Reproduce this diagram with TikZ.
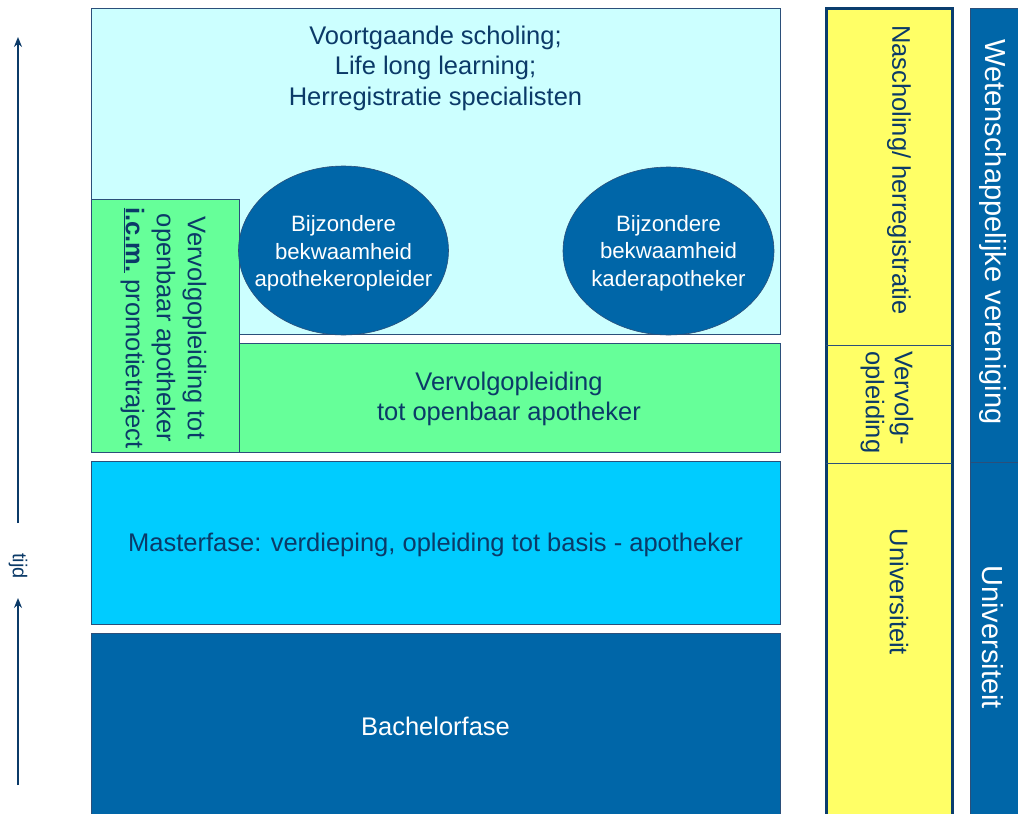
\documentclass[tikz,border=0pt]{standalone}
\usepackage{fontspec}
\setmainfont{Liberation Sans}
\usetikzlibrary{shapes.geometric,arrows.meta}
\definecolor{lcyan}{HTML}{CCFFFF}
\definecolor{lgreen}{HTML}{66FF99}
\definecolor{mcyan}{HTML}{00CCFF}
\definecolor{dblue}{HTML}{0066A8}
\definecolor{yel}{HTML}{FFFF66}
\definecolor{navytext}{HTML}{0B3A68}
\definecolor{bordc}{HTML}{2B4F7A}
\definecolor{thickb}{HTML}{0A3D6E}
\tikzset{
  box/.style={draw=bordc, line width=0.8pt, inner sep=0pt, outer sep=0pt, anchor=north west, align=center, text=navytext},
  bigtxt/.style={font=\fontsize{25.5}{30.5}\selectfont},
  elltxt/.style={font=\fontsize{22.2}{27.5}\selectfont},
  oval/.style={ellipse, draw=bordc, line width=0.6pt, fill=dblue, inner sep=0pt},
  vtxt/.style={rotate=-90, inner sep=0pt, align=center},
  timearrow/.style={draw=navytext, line width=1.4pt, -{Stealth[length=10pt,width=8pt]}}
}
\begin{document}
\begin{tikzpicture}[x=1pt,y=-1pt]
\clip (0,0) rectangle (1018,814);
\fill[white] (0,0) rectangle (1018,814);
% main boxes
\node[box, fill=lcyan, minimum width=689pt, minimum height=326pt] (top) at (91,8) {};
\node[bigtxt, text=navytext, align=center] (toptxt) at (435.5,68) {Voortgaande scholing;\\Life long learning;\\Herregistratie specialisten};
\node[box, fill=lgreen, minimum width=148pt, minimum height=253pt] (vtall) at (91,199) {};
\node[vtxt, text=navytext, font=\fontsize{25.5}{31}\selectfont] (vtalltxt) at (163.5,328) {Vervolgopleiding tot\\openbaar apotheker\\\underline{\textbf{i.c.m.}} promotietraject};
\node[box, fill=lgreen, minimum width=541pt, minimum height=109pt] (vwide) at (239,343) {};
\node[bigtxt, text=navytext, align=center] (vwidetxt) at (509,399) {Vervolgopleiding\\tot openbaar apotheker};
\node[box, fill=mcyan, minimum width=689pt, minimum height=163pt] (master) at (91,461) {};
\node[bigtxt, text=navytext] (mastertxt) at (435.5,545) {Masterfase: verdieping, opleiding tot basis - apotheker};
\node[box, bigtxt, fill=dblue, text=white, minimum width=689pt, minimum height=186pt] (bach) at (91,633) {Bachelorfase};
% ellipses
\node[oval, minimum width=210pt, minimum height=169pt] (ell1) at (343.5,250.5) {};
\node[elltxt, text=white, align=center] (ell1txt) at (ell1.center) [yshift=-3pt] {Bijzondere\\bekwaamheid\\apothekeropleider};
\node[oval, minimum width=211pt, minimum height=168pt] (ell2) at (668.5,251) {};
\node[elltxt, text=white, align=center] (ell2txt) at (ell2.center) [yshift=-2pt] {Bijzondere\\bekwaamheid\\kaderapotheker};
% yellow column
\node[box, draw=thickb, line width=3pt, fill=yel, minimum width=126pt, minimum height=830pt] (ycol) at (826,8) {};
\coordinate (y1l) at (826,345); \coordinate (y1r) at (952,345);
\coordinate (y2l) at (826,463); \coordinate (y2r) at (952,463);
\draw[bordc, line width=0.8pt] (y1l) -- (y1r);
\draw[bordc, line width=0.8pt] (y2l) -- (y2r);
\node[vtxt, bigtxt, text=navytext, anchor=west] (ynas) at (899,25) {Nascholing/ herregistratie};
\node[vtxt, text=navytext, anchor=west, align=left, font=\fontsize{25.5}{29}\selectfont] (yverv) at (887,351) {Vervolg-\\opleiding};
\node[vtxt, bigtxt, text=navytext] (yuni) at (899,592) {Universiteit};
% blue column
\node[box, fill=dblue, minimum width=60pt, minimum height=830pt] (bcol) at (970,8) {};
\coordinate (b1l) at (970,462); \coordinate (b1r) at (1018,462);
\draw[bordc, line width=1pt] (b1l) -- (b1r);
\node[vtxt, text=white, font=\fontsize{29}{34}\selectfont] (bwet) at (993,232) {Wetenschappelijke vereniging};
\node[vtxt, text=white, font=\fontsize{29}{34}\selectfont] (buni) at (993,637) {Universiteit};
% time axis
\node[vtxt, text=navytext, font=\fontsize{20}{24}\selectfont] (tijd) at (18,566) {tijd};
\coordinate (a1s) at (18,523); \coordinate (a1e) at (18,37);
\coordinate (a2s) at (18,785); \coordinate (a2e) at (18,598);
\draw[timearrow] (a1s) -- (a1e);
\draw[timearrow] (a2s) -- (a2e);
\end{tikzpicture}
\end{document}
